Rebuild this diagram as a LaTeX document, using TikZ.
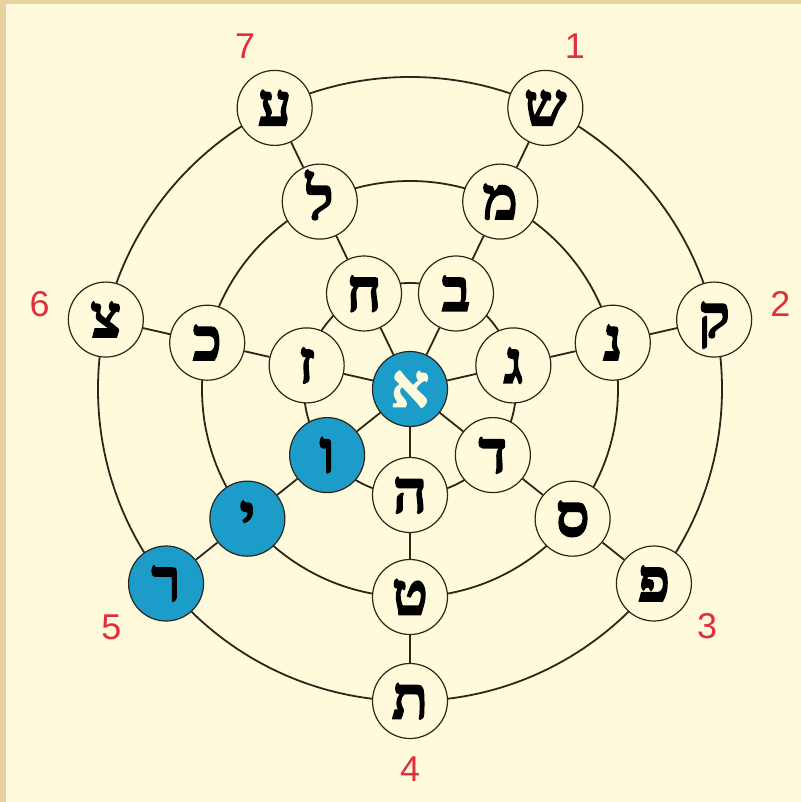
\documentclass[tikz,border=0pt]{standalone}
\usepackage{fontspec}
\setmainfont{Liberation Sans}
\newfontfamily\hebfont[Script=Hebrew, BoldFeatures={FakeBold=2.5}]{Liberation Serif}
\TeXXeTstate=1
\usetikzlibrary{backgrounds}
\definecolor{paper}{HTML}{FFFADC}
\definecolor{framecol}{HTML}{E8D3A0}
\definecolor{seal}{HTML}{1C9CC8}
\definecolor{ink}{HTML}{2B2619}
\definecolor{numred}{HTML}{E0303C}
\begin{document}
\begin{tikzpicture}[x=1bp,y=1bp,
  letter/.style={circle, draw=ink, line width=1.2bp, fill=paper, minimum size=75bp, inner sep=0pt,
    text height=35bp, text depth=0bp,
    font=\hebfont\bfseries\fontsize{60}{60}\selectfont},
  bluel/.style={letter, fill=seal},
  num/.style={text=numred, font=\fontsize{36}{36}\selectfont},
  wire/.style={draw=ink, line width=1.8bp}]
\useasboundingbox (-410,-413) rectangle (391,389);
% centre
\node[bluel, text=paper] (a) at (0,0) {\beginR א\endR};
% spoke 1
\node[letter] (b1) at (64.29:106) {\beginR ב\endR};
\node[letter] (m1) at (64.29:208) {\beginR מ\endR};
\node[letter] (o1) at (64.29:312) {\beginR ש\endR};
% spoke 2
\node[letter] (b2) at (12.86:106) {\beginR ג\endR};
\node[letter] (m2) at (12.86:208) {\beginR נ\endR};
\node[letter] (o2) at (12.86:312) {\beginR ק\endR};
% spoke 3
\node[letter] (b3) at (-38.57:106) {\beginR ד\endR};
\node[letter] (m3) at (-38.57:208) {\beginR ס\endR};
\node[letter] (o3) at (-38.57:312) {\beginR פ\endR};
% spoke 4
\node[letter] (b4) at (-90:106) {\beginR ה\endR};
\node[letter] (m4) at (-90:208) {\beginR ט\endR};
\node[letter] (o4) at (-90:312) {\beginR ת\endR};
% spoke 5
\node[bluel] (b5) at (-141.43:106) {\beginR ו\endR};
\node[bluel] (m5) at (-141.43:208) {\beginR י\endR};
\node[bluel] (o5) at (-141.43:312) {\beginR ר\endR};
% spoke 6
\node[letter] (b6) at (167.14:106) {\beginR ז\endR};
\node[letter] (m6) at (167.14:208) {\beginR כ\endR};
\node[letter] (o6) at (167.14:312) {\beginR צ\endR};
% spoke 7
\node[letter] (b7) at (115.71:106) {\beginR ח\endR};
\node[letter] (m7) at (115.71:208) {\beginR ל\endR};
\node[letter] (o7) at (115.71:312) {\beginR ע\endR};
% numbers
\node[num] (n1) at (64.29:380) {1};
\node[num] (n2) at (12.86:380) {2};
\node[num] (n3) at (-38.57:380) {3};
\node[num] (n4) at (-90:380) {4};
\node[num] (n5) at (-141.43:382) {5};
\node[num] (n6) at (167.14:380) {6};
\node[num] (n7) at (115.71:380) {7};
\begin{scope}[on background layer]
  \fill[framecol] (-410,-413) rectangle (391,389);
  \fill[paper] (-404,-413) rectangle (391,385);
  \draw[wire] (a.center) circle[radius=106];
  \draw[wire] (a.center) circle[radius=208];
  \draw[wire] (a.center) circle[radius=312];
  \foreach \k in {1,...,7}{
    \draw[wire] (a) -- (b\k) -- (m\k) -- (o\k);
  }
\end{scope}
\end{tikzpicture}
\end{document}
